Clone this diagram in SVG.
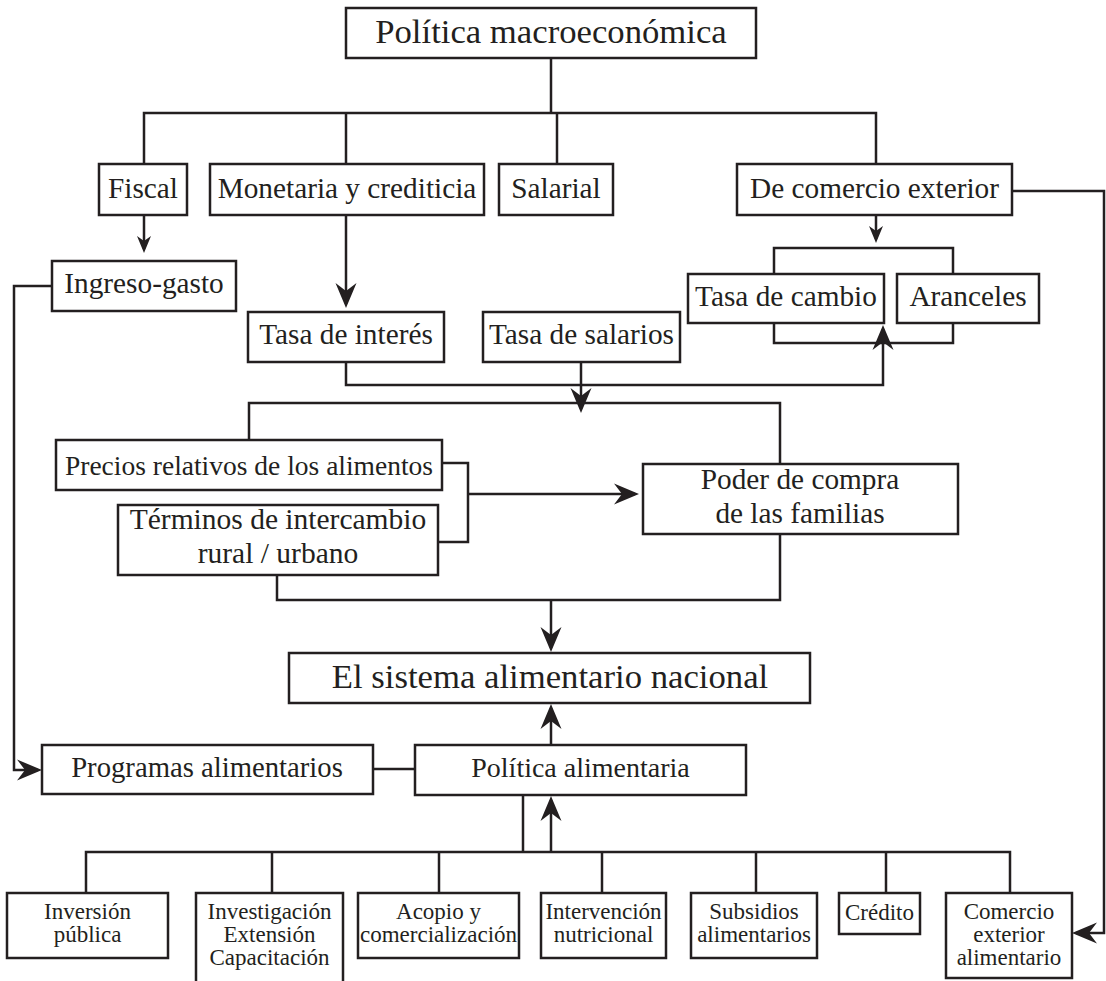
<svg xmlns="http://www.w3.org/2000/svg" width="1106" height="981" viewBox="0 0 1106 981">
<style>
rect{fill:#fff;stroke:#231f20;stroke-width:2.5}
.c path{fill:none;stroke:#231f20;stroke-width:2.5}
text{font-family:"Liberation Serif","Times New Roman",serif;fill:#231f20;text-anchor:middle}
.big{font-size:34.7px}
.mid{font-size:29.3px}
.sm{font-size:23px}
</style>
<defs>
<marker id="ah" viewBox="-22 -12 28 24" markerWidth="28" markerHeight="24" refX="0" refY="0" markerUnits="userSpaceOnUse" orient="auto">
<path d="M4,0 L-21,-10.5 L-13,0 L-21,10.5 Z" fill="#231f20"/>
</marker>
<marker id="ahs" viewBox="-14 -8 20 16" markerWidth="20" markerHeight="16" refX="0" refY="0" markerUnits="userSpaceOnUse" orient="auto">
<path d="M4,0 L-13,-7 L-8,0 L-13,7 Z" fill="#231f20"/>
</marker>
</defs>
<rect x="0" y="0" width="1106" height="981" style="stroke:none"/>
<g id="connectors" class="c">
<path d="M551,58 V113"/>
<path d="M144,164 V113 H876 V164"/>
<path d="M346,113 V164"/>
<path d="M557,113 V164"/>
<path d="M144,215 V249" marker-end="url(#ahs)"/>
<path d="M346,215 V304" marker-end="url(#ah)"/>
<path d="M876,215 V239" marker-end="url(#ahs)"/>
<path d="M774,274 V248 H953 V274"/>
<path d="M774,323 V343 H953 V323"/>
<path d="M346,362 V385 H883 V329" marker-end="url(#ah)"/>
<path d="M581,362 V409" marker-end="url(#ah)"/>
<path d="M249,440 V403 H780 V464"/>
<path d="M442,463 H468 V542 H438"/>
<path d="M468,494 H635" marker-end="url(#ah)"/>
<path d="M277,575 V600 H780 V534"/>
<path d="M551,600 V648" marker-end="url(#ah)"/>
<path d="M551,745 V708" marker-end="url(#ah)"/>
<path d="M52,286 H14 V770 H38" marker-end="url(#ah)"/>
<path d="M373,769 H415"/>
<path d="M523,795 V852"/>
<path d="M551,852 V800" marker-end="url(#ah)"/>
<path d="M86,893 V852 H1010 V893"/>
<path d="M272,852 V893"/>
<path d="M439,852 V893"/>
<path d="M602,852 V893"/>
<path d="M756,852 V893"/>
<path d="M886,852 V893"/>
<path d="M1012,191 H1104 V933 H1076" marker-end="url(#ah)"/>
</g>
<g id="macro"><rect x="346" y="8" width="410" height="50"/><text class="big" x="551" y="43">Política macroeconómica</text></g>
<g id="fiscal"><rect x="99" y="164" width="88" height="51"/><text class="mid" x="143" y="198">Fiscal</text></g>
<g id="monetaria"><rect x="210" y="164" width="274" height="51"/><text class="mid" x="347" y="198">Monetaria y crediticia</text></g>
<g id="salarial"><rect x="499" y="164" width="114" height="51"/><text class="mid" x="556" y="198">Salarial</text></g>
<g id="comercio"><rect x="737" y="164" width="275" height="51"/><text class="mid" x="874.5" y="198">De comercio exterior</text></g>
<g id="ingreso"><rect x="52" y="261" width="184" height="50"/><text class="mid" x="144" y="293">Ingreso-gasto</text></g>
<g id="interes"><rect x="248" y="312" width="196" height="50"/><text class="mid" x="346" y="344">Tasa de interés</text></g>
<g id="salarios"><rect x="483" y="312" width="197" height="50"/><text class="mid" x="581.5" y="344">Tasa de salarios</text></g>
<g id="cambio"><rect x="688" y="274" width="196" height="49"/><text class="mid" x="786" y="306">Tasa de cambio</text></g>
<g id="aranceles"><rect x="897" y="274" width="142" height="49"/><text class="mid" x="968" y="306">Aranceles</text></g>
<g id="precios"><rect x="56" y="440" width="386" height="50"/><text class="mid" style="font-size:27.5px" x="249" y="475">Precios relativos de los alimentos</text></g>
<g id="terminos"><rect x="118" y="505" width="320" height="70"/><text class="mid" style="font-size:29.5px" x="278" y="529">Términos de intercambio</text><text class="mid" style="font-size:29.5px" x="278" y="563">rural / urbano</text></g>
<g id="poder"><rect x="643" y="464" width="315" height="70"/><text class="mid" x="800" y="489">Poder de compra</text><text class="mid" x="800" y="523">de las familias</text></g>
<g id="sistema"><rect x="289" y="653" width="521" height="50"/><text class="big" x="550" y="688">El sistema alimentario nacional</text></g>
<g id="programas"><rect x="42" y="745" width="331" height="49"/><text class="mid" style="font-size:28.7px" x="207" y="777">Programas alimentarios</text></g>
<g id="politica-alimentaria"><rect x="415" y="745" width="331" height="50"/><text class="mid" style="font-size:28px" x="580.5" y="777">Política alimentaria</text></g>
<g id="inversion"><rect x="7" y="893" width="161" height="65"/><text class="sm" x="87.5" y="919">Inversión</text><text class="sm" x="87.5" y="942">pública</text></g>
<g id="investigacion"><rect x="196" y="893" width="147" height="100"/><text class="sm" x="269.5" y="919">Investigación</text><text class="sm" x="269.5" y="942">Extensión</text><text class="sm" x="269.5" y="965">Capacitación</text></g>
<g id="acopio"><rect x="358" y="893" width="161" height="65"/><text class="sm" x="438.5" y="919">Acopio y</text><text class="sm" x="438.5" y="942">comercialización</text></g>
<g id="intervencion"><rect x="541" y="893" width="125" height="65"/><text class="sm" x="603.5" y="919">Intervención</text><text class="sm" x="603.5" y="942">nutricional</text></g>
<g id="subsidios"><rect x="691" y="893" width="126" height="65"/><text class="sm" x="754" y="919">Subsidios</text><text class="sm" x="754" y="942">alimentarios</text></g>
<g id="credito"><rect x="839" y="893" width="81" height="41"/><text class="sm" x="879.5" y="920">Crédito</text></g>
<g id="comercio-alimentario"><rect x="946" y="893" width="126" height="85"/><text class="sm" x="1009" y="919">Comercio</text><text class="sm" x="1009" y="942">exterior</text><text class="sm" x="1009" y="965">alimentario</text></g>
</svg>
